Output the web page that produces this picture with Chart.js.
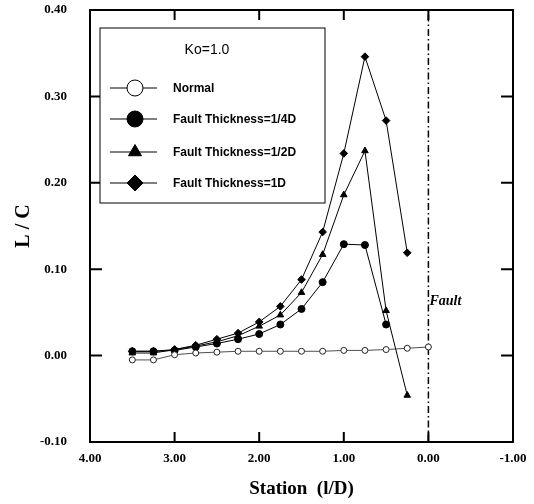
<!DOCTYPE html>
<html>
<head>
<meta charset="utf-8">
<script src="https://cdn.jsdelivr.net/npm/chart.js@4.4.1/dist/chart.umd.min.js"></script>
<style>
  html, body { margin: 0; padding: 0; background: #fff; }
  #wrap { width: 534px; height: 504px; position: relative; }
</style>
</head>
<body>
<div id="wrap"><canvas id="chart"></canvas></div>
<script>
// station (l/D) positions
const stations = [3.5, 3.25, 3.0, 2.75, 2.5, 2.25, 2.0, 1.75, 1.5, 1.25, 1.0, 0.75, 0.5, 0.25, 0.0];

// L / C per series
const normalVals  = [-0.005, -0.005, 0.001, 0.003, 0.004, 0.005, 0.005, 0.005, 0.005, 0.005, 0.006, 0.006, 0.007, 0.0085, 0.010];
const quarterVals = [0.005, 0.005, 0.006, 0.010, 0.014, 0.019, 0.025, 0.036, 0.054, 0.085, 0.129, 0.128, 0.036];
const halfVals    = [0.003, 0.003, 0.007, 0.011, 0.016, 0.023, 0.034, 0.047, 0.073, 0.117, 0.186, 0.237, 0.052, -0.046];
const oneVals     = [0.005, 0.005, 0.007, 0.012, 0.019, 0.026, 0.039, 0.057, 0.088, 0.143, 0.234, 0.346, 0.272, 0.119];

const xTicks = [4, 3, 2, 1, 0, -1];
const yTicks = [-0.1, 0, 0.1, 0.2, 0.3, 0.4];
const faultX = 0;

const legendTitle = 'Ko=1.0';
const labels = ['Normal', 'Fault Thickness=1/4D', 'Fault Thickness=1/2D', 'Fault Thickness=1D'];

const pts = vals => vals.map((v, i) => ({ x: stations[i], y: v }));

function series(label, vals, style, opts) {
  return Object.assign({
    label,
    data: pts(vals),
    borderColor: '#000',
    backgroundColor: '#000',
    borderWidth: 1,
    pointStyle: style,
    pointRadius: 3.5,
    pointBorderWidth: 1,
    tension: 0,
    fill: false,
  }, opts || {});
}

const datasets = [
  series(labels[0], normalVals, 'circle', { backgroundColor: '#fff', pointRadius: 3, borderColor: '#222', borderWidth: 0.8 }),
  series(labels[1], quarterVals, 'circle', { pointRadius: 3.5 }),
  series(labels[2], halfVals, 'triangle', { pointRadius: 3.8 }),
  series(labels[3], oneVals, 'rectRot', { pointRadius: 3.8 }),
  {
    label: 'fault',
    data: [{ x: faultX, y: -0.1 }, { x: faultX, y: 0.4 }],
    borderColor: '#000',
    borderWidth: 1.5,
    borderDash: [7, 3, 1.5, 3],
    pointRadius: 0,
    fill: false,
  },
];

/* frame, inward ticks, legend box, Fault label */
const decorations = {
  id: 'decorations',
  afterDraw(chart) {
    const { ctx, chartArea: a, scales } = chart;
    const xs = scales.x, ys = scales.y;
    ctx.save();
    ctx.strokeStyle = '#000';

    // inward ticks
    ctx.lineWidth = 2;
    ctx.beginPath();
    xTicks.forEach(v => {
      const px = xs.getPixelForValue(v);
      ctx.moveTo(px, a.bottom); ctx.lineTo(px, a.bottom - 10);
      ctx.moveTo(px, a.top); ctx.lineTo(px, a.top + 10);
    });
    yTicks.forEach(v => {
      const py = ys.getPixelForValue(v);
      ctx.moveTo(a.left, py); ctx.lineTo(a.left + 12, py);
      ctx.moveTo(a.right, py); ctx.lineTo(a.right - 12, py);
    });
    ctx.stroke();

    // frame
    ctx.lineWidth = 2;
    ctx.strokeRect(a.left, a.top, a.right - a.left, a.bottom - a.top);

    // legend
    const bx = a.left + 10, by = a.top + 18, bw = 225, bh = 175;
    ctx.fillStyle = '#fff';
    ctx.fillRect(bx, by, bw, bh);
    ctx.lineWidth = 1;
    ctx.strokeRect(bx, by, bw, bh);

    ctx.fillStyle = '#000';
    ctx.font = '14px "Liberation Sans", Arial, sans-serif';
    ctx.textAlign = 'center';
    ctx.textBaseline = 'middle';
    ctx.fillText(legendTitle, bx + 107, by + 22);

    const rows = [60, 91, 124, 155];
    const sizes = [8, 8, 7.5, 8];
    ctx.textAlign = 'left';
    ctx.font = 'bold 12px "Liberation Sans", Arial, sans-serif';
    for (let i = 0; i < 4; i++) {
      const ds = chart.data.datasets[i];
      const cy = by + rows[i];
      const cx = bx + 35;
      ctx.lineWidth = 1;
      ctx.strokeStyle = '#000';
      ctx.beginPath();
      ctx.moveTo(bx + 10, cy); ctx.lineTo(bx + 57, cy);
      ctx.stroke();
      ctx.fillStyle = ds.backgroundColor;
      Chart.helpers.drawPoint(ctx, {
        pointStyle: ds.pointStyle, radius: sizes[i], borderWidth: 1, rotation: 0,
      }, cx, cy);
      ctx.fillStyle = '#000';
      ctx.fillText(ds.label, bx + 73, cy + 1);
    }

    // Fault label
    ctx.font = 'italic bold 14px "Liberation Serif", "Times New Roman", serif';
    ctx.textAlign = 'left';
    ctx.fillText('Fault', xs.getPixelForValue(faultX) + 1, ys.getPixelForValue(0.063));
    ctx.restore();
  },
};

new Chart(document.getElementById('chart'), {
  type: 'line',
  data: { datasets },
  plugins: [decorations],
  options: {
    responsive: true,
    maintainAspectRatio: false,
    animation: false,
    layout: { padding: { left: 0, right: 21, top: 10, bottom: 0 } },
    plugins: { legend: { display: false }, tooltip: { enabled: false } },
    scales: {
      x: {
        type: 'linear',
        reverse: true,
        min: -1, max: 4,
        afterBuildTicks: s => { s.ticks = xTicks.map(v => ({ value: v })); },
        afterFit: s => { s.height = 62; s.paddingLeft = 0; s.paddingRight = 0; },
        grid: { display: false },
        border: { display: false },
        ticks: {
          color: '#000',
          padding: 1,
          maxRotation: 0,
          autoSkip: false,
          font: { family: '"Liberation Serif", "Times New Roman", serif', size: 13, weight: 'bold' },
          callback: v => v.toFixed(2),
        },
        title: {
          display: true,
          text: 'Station  (l/D)',
          color: '#000',
          padding: { top: 6, bottom: 4 },
          font: { family: '"Liberation Serif", "Times New Roman", serif', size: 19, weight: 'bold' },
        },
      },
      y: {
        min: -0.1, max: 0.4,
        afterBuildTicks: s => { s.ticks = yTicks.map(v => ({ value: v })); },
        afterFit: s => { s.width = 90; s.paddingTop = 0; s.paddingBottom = 0; },
        grid: { display: false },
        border: { display: false },
        ticks: {
          color: '#000',
          padding: 15,
          font: { family: '"Liberation Serif", "Times New Roman", serif', size: 13, weight: 'bold' },
          callback: v => v.toFixed(2),
        },
        title: {
          display: true,
          text: 'L / C',
          color: '#000',
          padding: { top: 12, bottom: 0 },
          font: { family: '"Liberation Serif", "Times New Roman", serif', size: 20, weight: 'bold' },
        },
      },
    },
  },
});
</script>
</body>
</html>
